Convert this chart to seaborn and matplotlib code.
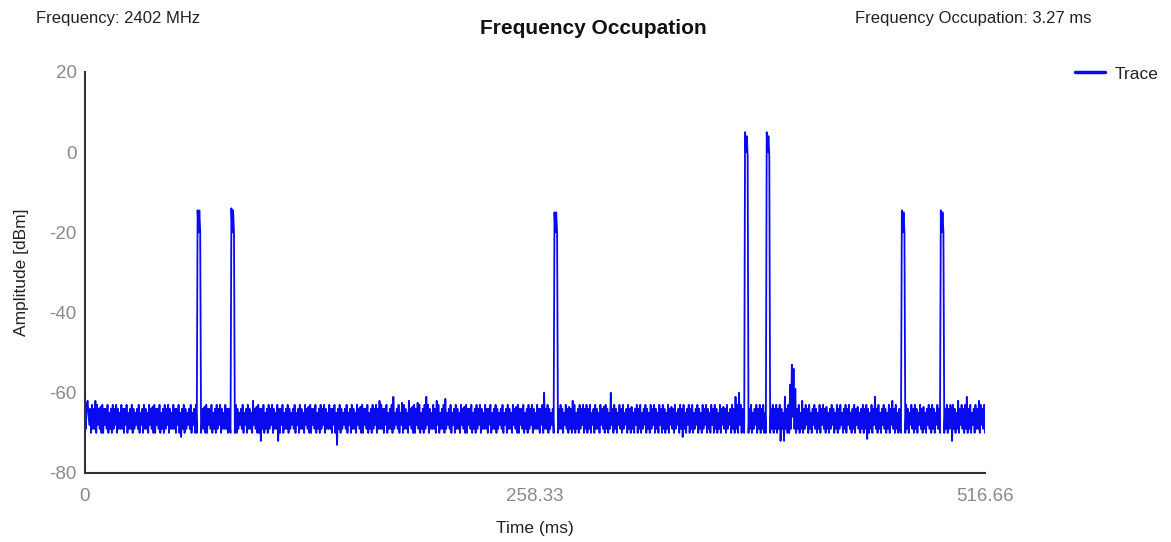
import numpy as np
import pandas as pd
import matplotlib
matplotlib.use("Agg")
import matplotlib.pyplot as plt
import seaborn as sns

# ---- data ----
time_max = 516.66
x_ticks = [0, 258.33, 516.66]
x_tick_labels = ["0", "258.33", "516.66"]
y_ticks = [20, 0, -20, -40, -60, -80]

amplitude = [
    -66, -69, -63, -62, -65, -68, -64, -70, -63, -69, -64, -69, -62, -70, -63, -68, -64, -69, -63.5, -70,
    -63, -70, -64, -68, -64, -69, -63, -70, -65, -69, -64, -70, -63, -69, -64, -68, -63, -70, -64, -69,
    -65, -69, -63, -69, -64, -70, -64, -68, -63, -70, -65, -69, -64, -69, -63, -70, -64, -69, -65, -68,
    -64, -69, -63, -70, -65, -68, -64, -70, -63, -69, -64, -69, -65, -70, -63, -68, -64, -69, -63.5, -70,
    -63, -70, -64, -68, -64, -69, -63, -70, -65, -69, -64, -70, -63, -69, -64, -68, -63, -70, -64, -69,
    -65, -69, -63, -69, -64, -70, -64, -68, -63, -70, -65, -71, -64, -69, -63, -70, -64, -69, -65, -68,
    -64, -69, -63, -70, -65, -68, -64, -70, -63, -70, -14.5, -20, -14.5, -20, -70, -68, -64, -69, -63.5, -70,
    -63, -70, -64, -68, -64, -69, -63, -70, -65, -69, -64, -70, -63, -69, -64, -68, -63, -70, -64, -69,
    -65, -69, -63, -69, -64, -70, -64, -68, -70, -14, -20, -14.5, -20, -70, -63, -70, -64, -69, -65, -68,
    -64, -69, -63, -70, -65, -68, -64, -70, -63, -69, -64, -69, -65, -70, -62, -68, -64, -69, -63.5, -70,
    -63, -70, -64, -72, -64, -69, -63, -70, -65, -69, -64, -70, -63, -69, -64, -68, -63, -70, -64, -69,
    -65, -69, -63, -72, -64, -70, -64, -68, -63, -70, -65, -69, -64, -69, -63, -70, -64, -69, -65, -68,
    -64, -69, -63, -70, -65, -68, -64, -70, -63, -69, -64, -69, -65, -70, -63, -68, -64, -69, -63.5, -70,
    -63, -70, -64, -68, -64, -69, -63, -70, -65, -69, -64, -70, -63, -69, -64, -68, -63, -70, -64, -69,
    -65, -69, -63, -69, -64, -70, -64, -68, -63, -70, -65, -73, -64, -69, -63, -70, -64, -69, -65, -68,
    -64, -69, -63, -70, -65, -68, -64, -70, -63, -69, -64, -69, -65, -70, -63, -68, -64, -69, -63.5, -70,
    -63, -70, -64, -68, -64, -69, -63, -70, -65, -69, -64, -70, -63, -69, -64, -68, -63, -70, -64, -69,
    -62, -69, -63, -69, -64, -70, -64, -68, -63, -70, -65, -69, -64, -69, -63, -70, -61, -69, -65, -68,
    -64, -69, -63, -70, -65, -68, -62.5, -70, -63, -69, -64, -69, -65, -70, -62, -68, -64, -69, -63.5, -70,
    -63, -70, -64, -68, -62.5, -69, -63, -70, -65, -69, -64, -70, -63, -69, -61, -68, -63, -70, -64, -69,
    -65, -69, -63, -69, -64, -70, -62, -68, -63, -70, -65, -69, -64, -69, -63, -70, -61.5, -69, -65, -68,
    -64, -69, -63, -70, -65, -68, -64, -70, -63, -69, -64, -69, -65, -70, -63, -68, -64, -69, -63.5, -70,
    -63, -70, -64, -68, -64, -69, -63, -70, -65, -69, -64, -70, -63, -69, -64, -68, -63, -70, -64, -69,
    -65, -69, -63, -69, -64, -70, -64, -68, -63, -70, -65, -69, -64, -69, -63, -70, -64, -69, -65, -68,
    -64, -69, -63, -70, -65, -68, -64, -70, -63, -69, -64, -69, -65, -70, -63, -68, -64, -69, -63.5, -70,
    -63, -70, -64, -68, -64, -69, -63, -70, -65, -69, -64, -70, -63, -69, -64, -68, -63, -70, -64, -69,
    -65, -69, -63, -69, -64, -70, -64, -68, -63, -70, -60, -69, -64, -69, -63, -70, -64, -69, -65, -68,
    -64, -70, -15, -20, -15, -20, -70, -64, -69, -63, -69, -64, -70, -65, -68, -63, -69, -64, -70, -63.5,
    -69, -64, -70, -62, -69, -63, -70, -65, -69, -64, -70, -63, -69, -64, -68, -63, -70, -64, -69, -63,
    -70, -64, -69, -63, -70, -65, -68, -64, -70, -63, -69, -64, -69, -65, -70, -63, -68, -64, -69, -63.5,
    -70, -63, -69, -64, -70, -65, -69, -60, -68, -64, -70, -63, -69, -64, -70, -65, -68, -63, -69, -64,
    -70, -63, -69, -65, -68, -64, -70, -63, -69, -64, -70, -63.5, -69, -65, -70, -64, -68, -63, -70, -64,
    -69, -63, -70, -65, -69, -64, -68, -63, -70, -64, -69, -65, -70, -63, -69, -64, -68, -63, -70, -64,
    -69, -65, -70, -63, -68, -64, -70, -63, -69, -64, -70, -65, -69, -63, -70, -64, -68, -63.5, -69, -64,
    -70, -63, -69, -65, -68, -64, -70, -63, -69, -64, -71, -63, -69, -65, -70, -64, -68, -63, -70, -64,
    -69, -63, -70, -65, -69, -64, -68, -63, -70, -64, -69, -65, -70, -63, -69, -64, -68, -63, -70, -64,
    -69, -65, -70, -63, -68, -64, -70, -63, -69, -64, -70, -65, -69, -63, -70, -64, -68, -63.5, -69, -64,
    -70, -63, -69, -65, -68, -64, -70, -63, -69, -64, -70, -61, -69, -63, -70, -60, -68, -63, -70, -64,
    -69, -70, 5, 0, 4, -1, -70, -64, -69, -63, -70, -65, -69, -64, -68, -63, -70, -64, -69, -63,
    -70, -64, -69, -63, -70, -65, -70, 5, 0, 4, -1, -70, -64, -69, -63, -70, -64, -69, -63, -70,
    -64, -69, -63, -72, -64, -69, -65, -72, -61, -69, -64, -70, -63, -70, -58, -69, -53, -66, -54, -69,
    -59, -70, -64, -69, -63, -70, -65, -69, -62, -70, -64, -69, -63, -68, -64, -70, -63, -69, -65, -70,
    -64, -68, -63, -69, -64, -70, -65, -69, -63, -70, -64, -68, -63, -69, -64, -70, -63.5, -69, -65, -70,
    -64, -69, -63, -68, -64, -70, -65, -69, -63, -70, -64, -69, -63, -68, -65, -70, -64, -69, -63, -70,
    -64, -68, -63, -69, -65, -70, -64, -69, -63, -70, -64, -68, -63.5, -69, -65, -70, -64, -69, -63, -70,
    -64, -69, -63, -71.5, -64, -70, -65, -69, -63, -70, -64, -68, -61, -69, -64, -70, -63, -69, -65, -70,
    -64, -68, -63, -69, -64, -70, -65, -69, -63, -70, -64, -68, -62, -69, -64, -70, -63, -69, -65, -70,
    -64, -69, -70, -14.5, -20, -15, -20, -70, -63, -69, -64, -70, -65, -68, -63, -69, -64, -70, -63, -69,
    -64, -70, -65, -68, -63, -69, -64, -70, -63.5, -69, -65, -70, -64, -68, -63, -69, -64, -70, -63, -69,
    -64, -70, -65, -68, -63, -69, -64, -70, -14.5, -20, -15, -20, -70, -64, -69, -63, -70, -64, -69, -63,
    -64, -72, -63, -69, -64, -70, -65, -69, -62, -70, -64, -68, -63, -69, -64, -70, -63, -69, -61, -70,
    -64, -69, -63, -70, -65, -68, -64, -70, -63, -69, -64, -69, -62, -70, -63, -68, -64, -69, -63, -70,
]
time_ms = np.linspace(0, time_max, len(amplitude))
df = pd.DataFrame({"Time": time_ms, "Amplitude": amplitude, "series": "Trace"})

# ---- style ----
sns.set_theme(style="white")
plt.rcParams["font.family"] = ["Liberation Sans", "DejaVu Sans"]
plt.rcParams["axes.unicode_minus"] = False

fig = plt.figure(figsize=(11.71, 5.42), dpi=100)
ax = fig.add_axes([85 / 1171, 1 - 473 / 542, 900 / 1171, 401 / 542])

sns.lineplot(data=df, x="Time", y="Amplitude", hue="series", palette={"Trace": "#0a0af0"},
             estimator=None, sort=False, linewidth=1.3, ax=ax)

ax.set_xlim(0, time_max)
ax.set_ylim(-80, 20)
ax.set_xticks(x_ticks)
ax.set_xticklabels(x_tick_labels)
ax.set_yticks(y_ticks)
ax.tick_params(axis="both", length=0, labelsize=13.5, colors="#8a8a8a")
ax.tick_params(axis="y", pad=6)
ax.tick_params(axis="x", pad=11)

for s in ["top", "right"]:
    ax.spines[s].set_visible(False)
for s in ["left", "bottom"]:
    ax.spines[s].set_color("#333333")
    ax.spines[s].set_linewidth(1.5)

ax.set_xlabel("Time (ms)", fontsize=12.5, color="#222222")
ax.set_ylabel("Amplitude [dBm]", fontsize=12.5, color="#222222")
ax.xaxis.set_label_coords(0.5, (473 - 521) / 401)
ax.yaxis.set_label_coords((29 - 85) / 900, 0.5)

fig.text(593 / 1171, 1 - 28 / 542, "Frequency Occupation", ha="center", va="center",
         fontsize=15, fontweight="bold", color="#111111")
fig.text(36 / 1171, 1 - 18 / 542, "Frequency: 2402 MHz", ha="left", va="center",
         fontsize=12, color="#222222")
fig.text(855 / 1171, 1 - 18 / 542, "Frequency Occupation: 3.27 ms", ha="left", va="center",
         fontsize=12, color="#222222")

leg = ax.legend(loc="center left", bbox_to_anchor=(1059 / 1171, 1 - 74 / 542),
                bbox_transform=fig.transFigure, frameon=False, fontsize=12.5,
                handlelength=1.75, handletextpad=0.55, labelcolor="#222222")
for ln in leg.get_lines():
    ln.set_linewidth(2.5)

fig.savefig("out.png", dpi=100)
